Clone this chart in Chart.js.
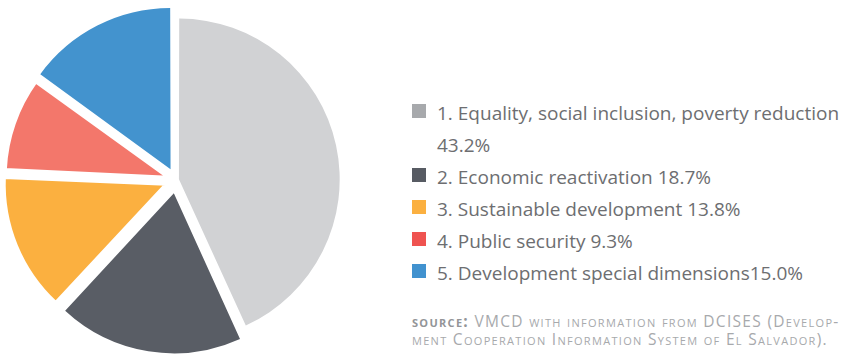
<!DOCTYPE html>
<html>
<head>
<meta charset="utf-8">
<script src="https://cdn.jsdelivr.net/npm/chart.js@4.4.1/dist/chart.umd.min.js"></script>
<style>
  html, body { margin: 0; padding: 0; background: #fff; overflow: hidden; }
  body { width: 846px; height: 355px; position: relative; font-family: "Open Sans", sans-serif; }
  #pieWrap { position: absolute; left: 0; top: 0; width: 352px; height: 355px; }
  #legend { position: absolute; left: 412px; top: 97px; width: 434px; margin: 0; padding: 0; list-style: none; }
  #legend li { position: relative; padding-left: 25px; font-size: 19px; line-height: 32px; color: #6d6e71; }
  #legend li span.box { position: absolute; left: 0; top: 7px; width: 14px; height: 14px; }
  #source { position: absolute; left: 412px; top: 312px; font-size: 15.5px; line-height: 18px; color: #a7a9ac; font-variant: small-caps; letter-spacing: 1.3px; white-space: nowrap; }
  #source b { font-weight: 700; color: #939598; }
</style>
</head>
<body>
<div id="pieWrap"><canvas id="shareChart"></canvas></div>
<ul id="legend"></ul>
<div id="source"><b>source:</b> VMCD with information from DCISES (Develop-<br>ment Cooperation Information System of El Salvador).</div>

<script>
// cooperation priorities, share of total (%)
const categories = [
  '1. Equality, social inclusion, poverty reduction ',
  '2. Economic reactivation ',
  '3. Sustainable development ',
  '4. Public security ',
  '5. Development special dimensions'
];
const shares = [43.2, 18.7, 13.8, 9.3, 15.0];
const sliceColors = ['#d1d2d4', '#595d65', '#fbb040', '#f3776b', '#4393ce'];
const legendColors = ['#a7a9ac', '#575b63', '#fbb040', '#ef5350', '#4192cf'];
// how far each slice is pulled out of the pie
const sliceOffsets = [12, 54, 44, 34, 48];
// extra white edge around the two small left slices
const sliceBorders = [0, 0, 3, 3, 0];

const ctx = document.getElementById('shareChart');

const chart = new Chart(ctx, {
  type: 'pie',
  data: {
    labels: categories,
    datasets: [{
      data: shares,
      backgroundColor: sliceColors,
      borderColor: '#ffffff',
      borderWidth: sliceBorders,
      offset: sliceOffsets
    }]
  },
  options: {
    responsive: true,
    maintainAspectRatio: false,
    animation: false,
    radius: 159,
    layout: { padding: { top: 5 } },
    events: [],
    plugins: {
      legend: { display: false },
      tooltip: { enabled: false }
    }
  }
});

// html legend next to the pie
const legendList = document.getElementById('legend');
chart.data.labels.forEach(function(label, i) {
  const li = document.createElement('li');
  const box = document.createElement('span');
  box.className = 'box';
  box.style.background = legendColors[i];
  li.appendChild(box);
  li.appendChild(document.createTextNode(label + shares[i].toFixed(1) + '%'));
  legendList.appendChild(li);
});
</script>
</body>
</html>
